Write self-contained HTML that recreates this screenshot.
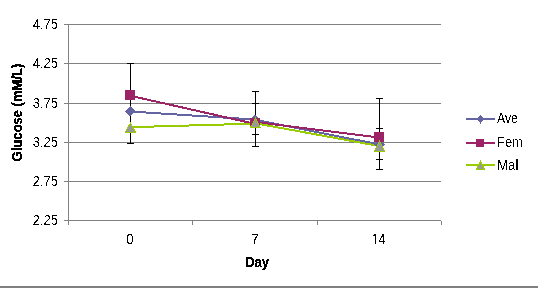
<!DOCTYPE html>
<html><head><meta charset="utf-8"><style>
html,body{margin:0;padding:0;background:#fff;}
body{width:538px;height:290px;overflow:hidden;}
svg{display:block;}
text{font-family:"Liberation Sans",sans-serif;fill:#000;}
</style></head><body>
<svg width="538" height="290" viewBox="0 0 538 290">
<defs><filter id="alias" filterUnits="userSpaceOnUse" x="0" y="0" width="538" height="290" color-interpolation-filters="sRGB"><feComponentTransfer><feFuncA type="discrete" tableValues="0 1"/></feComponentTransfer></filter><filter id="aliasb" filterUnits="userSpaceOnUse" x="0" y="0" width="538" height="290" color-interpolation-filters="sRGB"><feComponentTransfer><feFuncA type="discrete" tableValues="0 1 1"/></feComponentTransfer></filter></defs>
<rect x="0" y="0" width="538" height="290" fill="#fff"/>
<!-- gridlines -->
<g stroke="#808080" stroke-width="1" shape-rendering="crispEdges">
<line x1="64" y1="24.5" x2="441" y2="24.5"/>
<line x1="64" y1="63.5" x2="441" y2="63.5"/>
<line x1="64" y1="103.5" x2="441" y2="103.5"/>
<line x1="64" y1="142.5" x2="441" y2="142.5"/>
<line x1="64" y1="181.5" x2="441" y2="181.5"/>
<line x1="64" y1="220.5" x2="441" y2="220.5"/>
<line x1="68.5" y1="24" x2="68.5" y2="225"/>
<line x1="192.5" y1="220" x2="192.5" y2="225"/>
<line x1="317.5" y1="220" x2="317.5" y2="225"/>
<line x1="441.5" y1="221" x2="441.5" y2="225"/>
</g>
<!-- error bars -->
<g stroke="#000" stroke-width="1" shape-rendering="crispEdges">
<line x1="130.5" y1="63" x2="130.5" y2="144"/>
<line x1="127" y1="63.5" x2="134" y2="63.5"/>
<line x1="127" y1="143.5" x2="134" y2="143.5"/>
<line x1="255.5" y1="91" x2="255.5" y2="147"/>
<line x1="252" y1="91.5" x2="259" y2="91.5"/>
<line x1="252" y1="103.5" x2="259" y2="103.5"/>
<line x1="252" y1="134.5" x2="259" y2="134.5"/>
<line x1="252" y1="146.5" x2="259" y2="146.5"/>
<line x1="379.5" y1="98" x2="379.5" y2="170"/>
<line x1="376" y1="98.5" x2="383" y2="98.5"/>
<line x1="376" y1="128.5" x2="383" y2="128.5"/>
<line x1="376" y1="159.5" x2="383" y2="159.5"/>
<line x1="376" y1="169.5" x2="383" y2="169.5"/>
</g>
<!-- series lines -->
<g fill="none" stroke-width="2" shape-rendering="crispEdges">
<line stroke="#6464a2" x1="130.5" y1="111.5" x2="255.5" y2="119.6"/>
<line stroke="#9c2466" x1="130.5" y1="95.8" x2="255.5" y2="124"/>
<line stroke="#99CC00" x1="130.5" y1="127.2" x2="255.5" y2="123.6"/>
<line stroke="#6464a2" x1="255.5" y1="119.8" x2="379.5" y2="144.5"/>
<line stroke="#9c2466" x1="255.5" y1="122" x2="379.5" y2="137.6"/>
<line stroke="#99CC00" x1="255.5" y1="123.3" x2="379.5" y2="146.1"/>
</g>
<!-- markers Ave -->
<g fill="#6464a2" shape-rendering="crispEdges">
<polygon points="130.2,106.1 135.4,111.3 130.2,116.5 125,111.3"/>
<polygon points="255.2,114.6 260.4,119.8 255.2,125 250,119.8"/>
<polygon points="379.4,139 384.8,144.4 379.4,149.8 374,144.4"/>
</g>
<!-- markers Fem -->
<g fill="#9c2466">
<rect x="125" y="90" width="10" height="10"/>
<rect x="250" y="118" width="10" height="10"/>
<rect x="374" y="132" width="10" height="10"/>
</g>
<!-- markers Mal -->
<g fill="#999999" stroke="#99CC00" stroke-width="1" shape-rendering="crispEdges">
<polygon points="130.5,122.8 135.5,132.3 125.3,132.3"/>
<polygon points="255.5,118.0 260.5,127.9 250.3,127.9"/>
<polygon points="379.6,141.2 384.6,151.0 374.5,151.0"/>
</g>
<!-- legend -->
<g stroke-width="2" fill="none" shape-rendering="crispEdges">
<line x1="466" y1="119" x2="495" y2="119" stroke="#6464a2"/>
<line x1="466" y1="143" x2="495" y2="143" stroke="#9c2466"/>
<line x1="466" y1="165" x2="495" y2="165" stroke="#99CC00"/>
</g>
<g shape-rendering="crispEdges">
<polygon points="480.5,115 484.2,119.3 480.5,123.6 476.8,119.3" fill="#6464a2"/>
<rect x="476" y="139" width="8" height="8" fill="#9c2466"/>
<polygon points="480.5,161.5 484.5,169.5 476.5,169.5" fill="#999999" stroke="#99CC00" stroke-width="1"/>
</g>
<g filter="url(#alias)">
<g font-size="14" text-anchor="end">
<text x="58" y="28.5" textLength="25.15" lengthAdjust="spacingAndGlyphs">4.75</text>
<text x="58" y="67.5" textLength="25.15" lengthAdjust="spacingAndGlyphs">4.25</text>
<text x="58" y="107.5" textLength="25.15" lengthAdjust="spacingAndGlyphs">3.75</text>
<text x="58" y="146.5" textLength="25.15" lengthAdjust="spacingAndGlyphs">3.25</text>
<text x="58" y="185.5" textLength="25.15" lengthAdjust="spacingAndGlyphs">2.75</text>
<text x="58" y="224.5" textLength="25.15" lengthAdjust="spacingAndGlyphs">2.25</text>
</g>
<g font-size="14" text-anchor="middle">
<text x="130" y="244.4">0</text>
<text x="255" y="244.4">7</text>
<text x="375" y="244.4">1</text>
<text x="382" y="244.4" textLength="6.9" lengthAdjust="spacingAndGlyphs">4</text>
</g>
<g filter="url(#aliasb)">
<text x="257" y="266.5" font-size="14" font-weight="bold" text-anchor="middle" textLength="23.6" lengthAdjust="spacingAndGlyphs">Day</text>
<text transform="translate(22,112.5) rotate(-90) scale(0.93,1)" font-size="14" font-weight="bold" text-anchor="middle" letter-spacing="0">Glucose (mM/L)</text>
</g>
<g font-size="14">
<text x="497" y="123.4" textLength="20.8" lengthAdjust="spacingAndGlyphs">Ave</text>
<text x="497" y="147.4" textLength="25.85" lengthAdjust="spacingAndGlyphs">Fem</text>
<text x="497" y="169.9" textLength="21.5" lengthAdjust="spacingAndGlyphs">Mal</text>
</g>
</g>
<g fill="#fff" shape-rendering="crispEdges"><rect x="372" y="243" width="3" height="1"/><rect x="376" y="243" width="2" height="1"/></g>
<rect x="0" y="286" width="538" height="2" fill="#808080"/>
</svg>
</body></html>
